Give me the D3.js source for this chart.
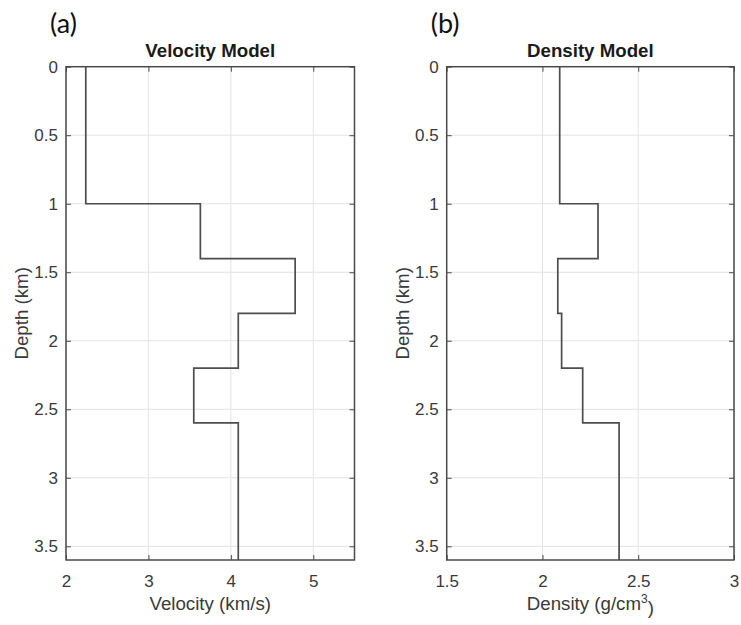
<!DOCTYPE html>
<html>
<head>
<meta charset="utf-8">
<script src="https://cdn.jsdelivr.net/npm/d3@7"></script>
<style>
  body { margin: 0; background: #fff; }
  svg { display: block; }
  text { font-family: "Liberation Sans", Arial, sans-serif; }
</style>
</head>
<body>
<svg id="chart"></svg>
<script>
// layer tops (km), last layer extends to the bottom of the plot
const layerTops = [0, 1, 1.4, 1.8, 2.2, 2.6];
const maxDepth = 3.6;
const velocity = [2.24, 3.63, 4.78, 4.09, 3.55, 4.09];
const density = [2.09, 2.29, 2.08, 2.10, 2.21, 2.40];

const depthTicks = [0, 0.5, 1, 1.5, 2, 2.5, 3, 3.5];
const velTicks = [2, 3, 4, 5];
const denTicks = [1.5, 2, 2.5, 3];

const width = 741, height = 625;
const svg = d3.select("#chart").attr("width", width).attr("height", height);

const plotTop = 66.7, plotBottom = 560;
const axisColor = "#4a4a4a";
const textColor = "#3a3a3a";

function stepPoints(values) {
  const pts = [];
  values.forEach((v, i) => {
    const d0 = layerTops[i];
    const d1 = i + 1 < layerTops.length ? layerTops[i + 1] : maxDepth;
    pts.push([v, d0], [v, d1]);
  });
  return pts;
}

function drawPanel(opt) {
  const g = svg.append("g");
  const x = d3.scaleLinear().domain(opt.xDomain).range([opt.left, opt.right]);
  const y = d3.scaleLinear().domain([0, maxDepth]).range([plotTop, plotBottom]);

  // grid
  g.append("g").selectAll("line").data(opt.xTicks).enter().append("line")
    .attr("x1", d => x(d)).attr("x2", d => x(d))
    .attr("y1", plotTop).attr("y2", plotBottom)
    .attr("stroke", "#e3e3e3").attr("stroke-width", 1);
  g.append("g").selectAll("line").data(depthTicks).enter().append("line")
    .attr("x1", opt.left).attr("x2", opt.right)
    .attr("y1", d => y(d)).attr("y2", d => y(d))
    .attr("stroke", "#e3e3e3").attr("stroke-width", 1);

  // axes with inward ticks on all four sides
  const tl = 5;
  const bottomAxis = g.append("g").attr("transform", `translate(0,${plotBottom})`)
    .call(d3.axisBottom(x).tickValues(opt.xTicks).tickSize(-tl).tickPadding(12)
      .tickFormat(d3.format("")));
  const topAxis = g.append("g").attr("transform", `translate(0,${plotTop})`)
    .call(d3.axisTop(x).tickValues(opt.xTicks).tickSize(-tl).tickFormat(""));
  const leftAxis = g.append("g").attr("transform", `translate(${opt.left},0)`)
    .call(d3.axisLeft(y).tickValues(depthTicks).tickSize(-tl).tickPadding(12)
      .tickFormat(d3.format("")));
  const rightAxis = g.append("g").attr("transform", `translate(${opt.right},0)`)
    .call(d3.axisRight(y).tickValues(depthTicks).tickSize(-tl).tickFormat(""));

  [bottomAxis, topAxis, leftAxis, rightAxis].forEach(a => {
    a.select(".domain").remove();
    a.selectAll(".tick line").attr("stroke", axisColor);
    a.selectAll(".tick text").attr("fill", textColor)
      .style("font-size", "17px").style("font-family", "Liberation Sans, Arial, sans-serif");
  });
  bottomAxis.selectAll(".tick text").attr("dy", "0.9em");
  leftAxis.selectAll(".tick text").attr("dx", "4px");

  // data step line
  const line = d3.line().x(d => x(d[0])).y(d => y(d[1]));
  g.append("path").datum(stepPoints(opt.values))
    .attr("d", line).attr("fill", "none")
    .attr("stroke", "#4d4d4d").attr("stroke-width", 1.7);

  // box
  g.append("rect")
    .attr("x", opt.left).attr("y", plotTop)
    .attr("width", opt.right - opt.left).attr("height", plotBottom - plotTop)
    .attr("fill", "none").attr("stroke", axisColor).attr("stroke-width", 1.5);

  const cx = (opt.left + opt.right) / 2;
  g.append("text").attr("x", cx).attr("y", 57)
    .attr("text-anchor", "middle").attr("font-weight", "bold")
    .attr("fill", "#1a1a1a").style("font-size", "18.7px").text(opt.title);

  const xl = g.append("text").attr("x", cx).attr("y", 610)
    .attr("text-anchor", "middle").attr("fill", textColor)
    .style("font-size", "18.7px");
  xl.append("tspan").text(opt.xLabel);
  if (opt.xSup) {
    xl.append("tspan").attr("dy", "-0.55em").style("font-size", "12px").text(opt.xSup);
    xl.append("tspan").attr("dy", "0.55em").text(")");
  }

  g.append("text")
    .attr("transform", `translate(${opt.left - 38},${(plotTop + plotBottom) / 2}) rotate(-90)`)
    .attr("text-anchor", "middle").attr("fill", textColor)
    .style("font-size", "18.7px").text("Depth (km)");

  g.append("text").attr("x", opt.left - 16).attr("y", 33)
    .attr("fill", "#111").style("font-family", "Lato, 'Open Sans', sans-serif")
    .style("font-size", "27px").text(opt.tag);
}

drawPanel({
  left: 66, right: 354.5, xDomain: [2, 5.5], xTicks: velTicks,
  values: velocity, title: "Velocity Model", xLabel: "Velocity (km/s)", tag: "(a)"
});

drawPanel({
  left: 446.7, right: 734, xDomain: [1.5, 3], xTicks: denTicks,
  values: density, title: "Density Model", xLabel: "Density (g/cm", xSup: "3", tag: "(b)"
});
</script>
</body>
</html>
